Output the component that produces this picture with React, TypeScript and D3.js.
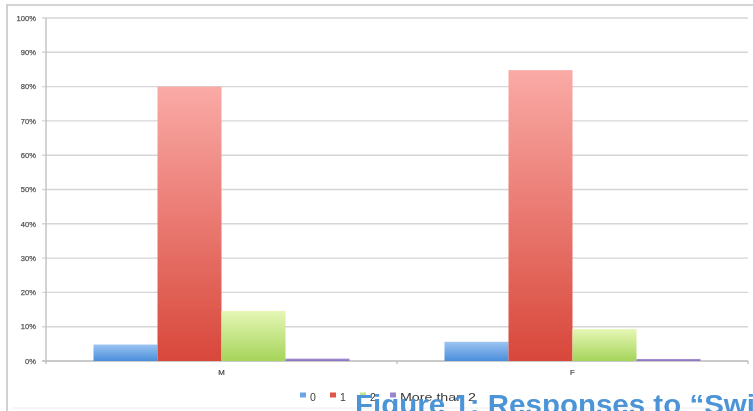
import React from "react";
import * as d3 from "d3";

// Share of responses per group, in percent
const categories = ["M", "F"];
const seriesNames = ["0", "1", "2", "More than 2"];
const valuesM = [4.8, 80, 14.6, 0.7];
const valuesF = [5.6, 84.8, 9.3, 0.6];
const yTicks = [0, 10, 20, 30, 40, 50, 60, 70, 80, 90, 100];
const titleText = "Figure 1: Responses to \u201CSwi";

const seriesValues = [valuesM, valuesF];

// gradient stops per series: [top, bottom]
const gradients = [
  ["#9cc4f2", "#4a8edb"],
  ["#faaaa6", "#d8473a"],
  ["#e6f7b6", "#a5d45a"],
  ["#a996d6", "#8670c0"],
];
const legendSwatch = ["#6aa5e6", "#e0574b", "#c4e887", "#9a86cc"];

const W = 753;
const H = 411;
const plot = { left: 46, right: 748, top: 18, bottom: 361 };

export default function App() {
  const x0 = d3
    .scaleBand<string>()
    .domain(categories)
    .range([plot.left, plot.right])
    .paddingInner(0)
    .paddingOuter(0);
  const x1 = d3
    .scaleBand<string>()
    .domain(seriesNames)
    .range([0, x0.bandwidth()])
    .paddingInner(0)
    .paddingOuter(0.742);
  const y = d3.scaleLinear().domain([0, 100]).range([plot.bottom, plot.top]);

  // legend layout: swatch, label, gap
  let lx = 300;
  const legendItems = seriesNames.map((name, i) => {
    const textW = name.length === 1 ? 5.5 : 76;
    const item = { name, i, x: lx, textW };
    lx += 10 + textW + 14.5;
    return item;
  });

  return (
    <svg
      width={W}
      height={H}
      style={{ position: "absolute", left: 0, top: 0, background: "#fff" }}
      fontFamily="'Liberation Sans', Arial, sans-serif"
    >
      <defs>
        {gradients.map((g, i) => (
          <linearGradient key={i} id={`grad${i}`} x1="0" y1="0" x2="0" y2="1">
            <stop offset="0" stopColor={g[0]} />
            <stop offset="1" stopColor={g[1]} />
          </linearGradient>
        ))}
        <filter id="soft" x="-5%" y="-5%" width="110%" height="110%">
          <feGaussianBlur stdDeviation="0.4" />
        </filter>
      </defs>

      {/* chart frame */}
      <path
        d={`M7,${H + 2} L7,5 L${W + 2},5`}
        fill="none"
        stroke="#c6c6c6"
        strokeWidth={1.6}
      />
      <line x1={12} x2={W} y1={408} y2={408} stroke="#eeeeee" strokeWidth={1} />

      <g filter="url(#soft)">
        {/* gridlines and y ticks */}
        {yTicks.map((t) => (
          <g key={t}>
            <line
              x1={plot.left - 4}
              x2={plot.right}
              y1={y(t)}
              y2={y(t)}
              stroke={t === 0 ? "#b8b8b8" : "#d6d6d6"}
              strokeWidth={1.4}
            />
            <text
              x={36}
              y={y(t) + 2.7}
              textAnchor="end"
              fontSize={7.6}
              fill="#555"
              stroke="#555"
              strokeWidth={0.25}
            >
              {t}%
            </text>
          </g>
        ))}
        {/* y axis */}
        <line
          x1={plot.left}
          x2={plot.left}
          y1={plot.top}
          y2={plot.bottom}
          stroke="#c0c0c0"
          strokeWidth={1.4}
        />
        {/* x ticks at band edges */}
        {[plot.left, plot.left + x0.bandwidth(), plot.right].map((xx, i) => (
          <line
            key={i}
            x1={xx}
            x2={xx}
            y1={plot.bottom}
            y2={plot.bottom + 3}
            stroke="#b8b8b8"
            strokeWidth={1.2}
          />
        ))}

        {/* bars */}
        {categories.map((c, ci) => (
          <g key={c} transform={`translate(${x0(c)},0)`}>
            {seriesNames.map((s, si) => {
              const v = seriesValues[ci][si];
              return (
                <rect
                  key={s}
                  x={x1(s)}
                  y={y(v)}
                  width={x1.bandwidth()}
                  height={plot.bottom - y(v)}
                  fill={`url(#grad${si})`}
                />
              );
            })}
            <text
              x={x0.bandwidth() / 2}
              y={375}
              textAnchor="middle"
              fontSize={7.8}
              fill="#444"
              stroke="#444"
              strokeWidth={0.2}
            >
              {c}
            </text>
          </g>
        ))}

        {/* legend */}
        {legendItems.map((it) => (
          <g key={it.name}>
            <rect x={it.x} y={392.5} width={6} height={5} fill={legendSwatch[it.i]} />
            <text
              x={it.x + 10}
              y={400.5}
              fontSize={10.5}
              fill="#3a3a3a"
              {...(it.name.length > 1
                ? { textLength: it.textW, lengthAdjust: "spacingAndGlyphs" }
                : {})}
            >
              {it.name}
            </text>
          </g>
        ))}
      </g>

      {/* caption */}
      <text
        x={355}
        y={414}
        fontSize={28}
        fontWeight="bold"
        fill="#4d94d6"
        textLength={400}
        lengthAdjust="spacingAndGlyphs"
      >
        {titleText}
      </text>
    </svg>
  );
}
